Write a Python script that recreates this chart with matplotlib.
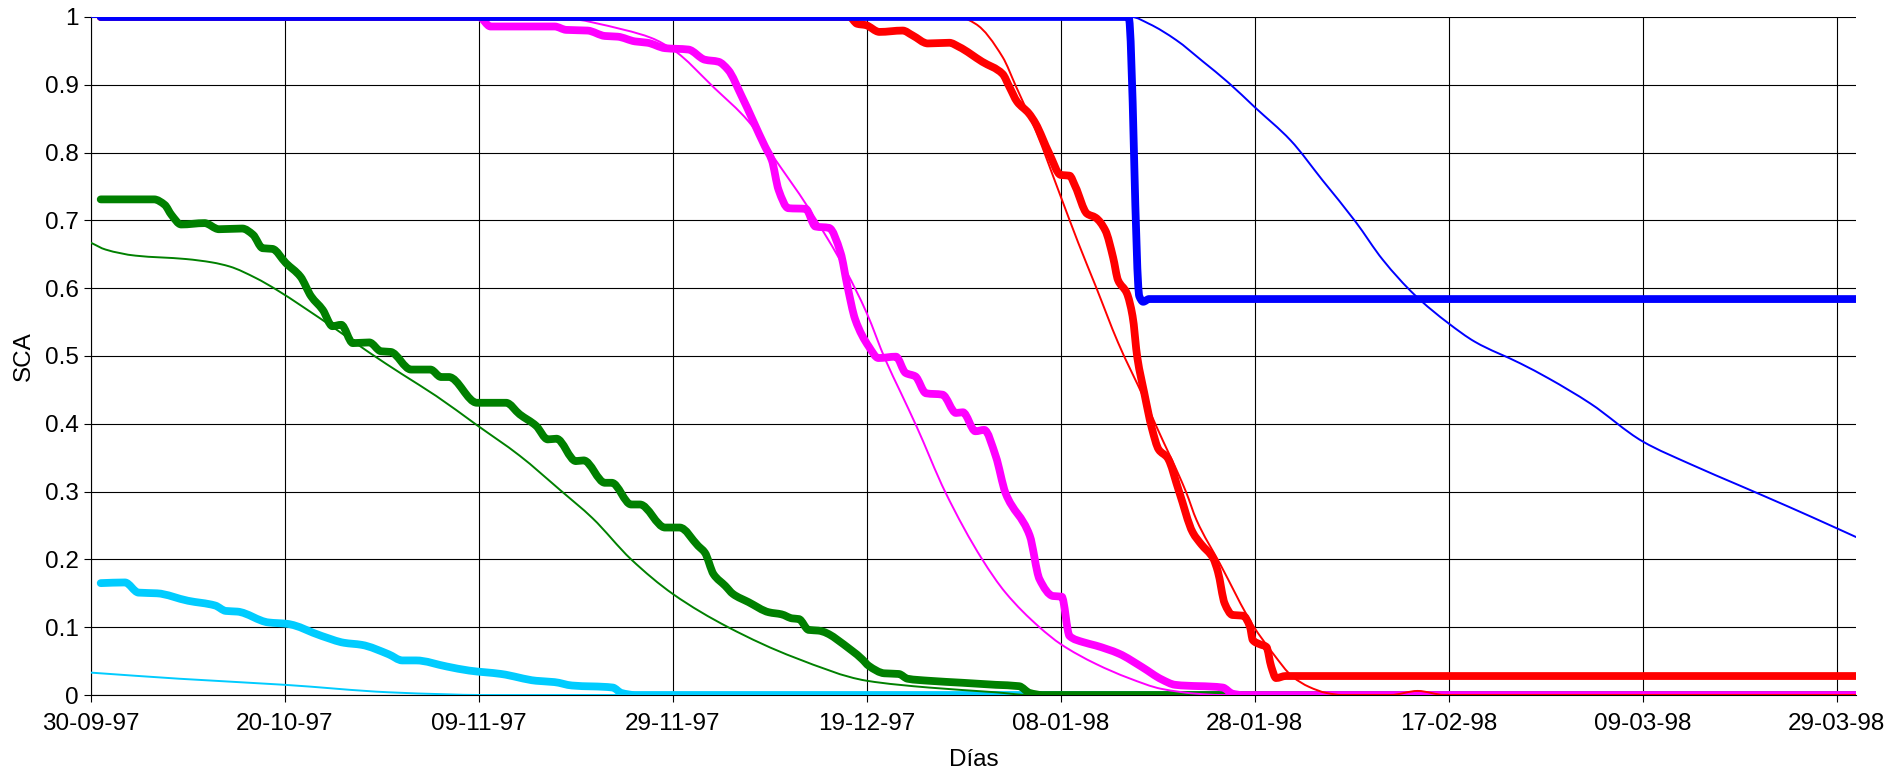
import datetime as dt
import numpy as np
import matplotlib
matplotlib.use("Agg")
import matplotlib.pyplot as plt
import matplotlib.dates as mdates
from matplotlib.path import Path
from matplotlib.patches import PathPatch

plt.rcParams['font.family'] = ['Liberation Sans Narrow', 'Liberation Sans', 'DejaVu Sans']

start = dt.datetime(1997, 9, 30)

# observed (thick) and simulated (thin) snow covered area, days since 30-09-97
cyan_obs_d = [1, 3.5, 4.9, 6.8, 10.0, 12.8, 13.9, 15.1, 18.3, 20.2, 23.8, 26.1, 27.9, 30.7,
              32.1, 33.5, 36.7, 39.0, 42.3, 45.9, 47.8, 49.6, 53.8, 54.7, 56.1, 182]
cyan_obs_v = [0.165, 0.166, 0.151, 0.150, 0.139, 0.132, 0.124, 0.123, 0.107, 0.105, 0.087, 0.077,
              0.074, 0.060, 0.051, 0.051, 0.042, 0.036, 0.031, 0.021, 0.019, 0.014, 0.011, 0.003, 0.0, 0.0]
cyan_sim_d = [0, 9.1, 20, 30.7, 36.7, 40, 182]
cyan_sim_v = [0.033, 0.024, 0.015, 0.004, 0.001, 0.0, 0.0]

green_obs_d = [1, 6.5, 7.6, 8.3, 9.3, 11.7, 13.2, 15.6, 16.7, 17.7, 18.7, 20.1, 21.6, 22.7, 23.9,
               24.9, 25.8, 27.0, 28.7, 29.9, 30.9, 33.0, 35.0, 36.1, 36.9, 39.8, 42.8, 44.2, 45.9,
               47.1, 48.0, 50.0, 50.8, 53.0, 53.7, 55.7, 56.6, 59.2, 60.7, 62.6, 63.3, 64.2, 65.4,
               66.2, 67.8, 69.9, 71.2, 72.3, 73.0, 74.0, 75.0, 78.5, 79.5, 80.2, 81.8, 83.3, 84.2,
               86.4, 89.9, 93.3, 95.7, 96.8, 98.1, 182]
green_obs_v = [0.731, 0.731, 0.723, 0.708, 0.694, 0.696, 0.687, 0.688, 0.679, 0.659, 0.658, 0.637,
               0.617, 0.588, 0.568, 0.544, 0.546, 0.519, 0.520, 0.507, 0.506, 0.480, 0.480, 0.469,
               0.469, 0.431, 0.431, 0.414, 0.397, 0.377, 0.378, 0.345, 0.346, 0.313, 0.313, 0.281,
               0.281, 0.247, 0.247, 0.220, 0.210, 0.178, 0.161, 0.149, 0.137, 0.122, 0.119, 0.113,
               0.112, 0.096, 0.095, 0.065, 0.053, 0.043, 0.032, 0.031, 0.024, 0.021, 0.018, 0.015,
               0.013, 0.003, 0.0, 0.0]
green_sim_d = [0, 1.5, 4.6, 9.8, 12.5, 14.3, 17.0, 19.1, 21.8, 25.3, 28.7, 32.1, 35.6, 39.7, 44.2,
               48.4, 51.7, 55.7, 60.0, 65.7, 72.6, 80.0, 86.4, 93.3, 96.8, 182]
green_sim_v = [0.667, 0.657, 0.648, 0.643, 0.638, 0.632, 0.615, 0.598, 0.573, 0.539, 0.505, 0.473,
               0.441, 0.399, 0.353, 0.302, 0.261, 0.200, 0.149, 0.100, 0.055, 0.021, 0.011, 0.004,
               0.0, 0.0]

magenta_obs_d = [1, 40, 41.2, 47.8, 49.0, 51.2, 53.0, 54.3, 56.1, 57.4, 59.2, 61.6, 63.3, 64.7,
                 65.7, 67.1, 69.5, 70.2, 70.9, 71.9, 73.7, 74.7, 76.1, 77.3, 78.0, 78.8, 80.2,
                 81.2, 83.0, 84.0, 85.0, 86.1, 87.8, 89.2, 89.9, 91.2, 92.1, 93.3, 94.3, 96.8,
                 97.8, 99.2, 100.1, 100.9, 102.3, 103.6, 106.0, 108.4, 110.4, 111.8, 116.7, 117.7,
                 118.7, 182]
magenta_obs_v = [1.0, 1.0, 0.986, 0.986, 0.981, 0.980, 0.972, 0.971, 0.964, 0.962, 0.954, 0.952,
                 0.937, 0.934, 0.922, 0.883, 0.809, 0.789, 0.745, 0.718, 0.717, 0.691, 0.689,
                 0.652, 0.603, 0.554, 0.514, 0.497, 0.499, 0.475, 0.470, 0.445, 0.443, 0.416,
                 0.417, 0.389, 0.391, 0.352, 0.298, 0.235, 0.171, 0.146, 0.145, 0.087, 0.078,
                 0.073, 0.061, 0.041, 0.023, 0.015, 0.011, 0.002, 0.0, 0.0]
magenta_sim_d = [0, 48.5, 55.0, 57.8, 60.0, 64.3, 67.8, 70.2, 74.0, 77.8, 80.0, 81.9, 83.5, 85.1,
                 88.1, 91.9, 94.3, 97.8, 100.0, 103.6, 107.0, 110.4, 113.9, 116.5, 182]
magenta_sim_v = [1.0, 0.998, 0.981, 0.969, 0.952, 0.895, 0.846, 0.797, 0.718, 0.627, 0.563, 0.495,
                 0.446, 0.397, 0.299, 0.200, 0.151, 0.100, 0.075, 0.046, 0.025, 0.009, 0.002, 0.0,
                 0.0]

red_obs_d = [1, 78.2, 79.0, 79.9, 81.3, 83.7, 84.7, 86.3, 88.5, 89.5, 91.9, 94.0, 94.7, 95.5, 96.7,
             97.4, 98.8, 100.0, 100.9, 101.5, 102.7, 103.6, 104.6, 105.4, 105.9, 106.8, 107.4,
             107.9, 108.6, 109.4, 110.1, 111.0, 112.2, 113.6, 114.5, 115.7, 116.2, 116.9, 117.7,
             118.8, 119.5, 119.8, 120.5, 121.2, 121.7, 122.2, 123.2, 182]
red_obs_v = [1.0, 1.0, 0.990, 0.988, 0.978, 0.980, 0.973, 0.961, 0.962, 0.956, 0.934, 0.916, 0.897,
             0.875, 0.858, 0.843, 0.799, 0.767, 0.766, 0.750, 0.710, 0.704, 0.685, 0.645, 0.612,
             0.593, 0.559, 0.497, 0.446, 0.393, 0.362, 0.350, 0.300, 0.240, 0.222, 0.202, 0.182,
             0.135, 0.118, 0.117, 0.101, 0.081, 0.075, 0.071, 0.042, 0.025, 0.028, 0.028]
red_sim_d = [0, 89.5, 91.2, 94.0, 95.4, 97.4, 100.0, 101.8, 103.6, 105.9, 108.6, 109.8, 112.9,
             114.0, 116.4, 119.8, 121.9, 123.9, 125.6, 127.4, 129.0, 134.0, 136.8, 139.6, 182]
red_sim_v = [1.0, 1.0, 0.990, 0.941, 0.897, 0.833, 0.735, 0.667, 0.603, 0.520, 0.437, 0.398, 0.300,
             0.258, 0.194, 0.103, 0.061, 0.027, 0.012, 0.003, 0.0, 0.0, 0.006, 0.0, 0.0]

blue_obs_d = [1, 107.0, 108.1, 108.5, 109.1, 182]
blue_obs_v = [1.0, 1.0, 0.588, 0.580, 0.584, 0.584]
blue_sim_d = [0, 107.3, 109.1, 111.9, 114.6, 117.3, 120.0, 123.7, 127.0, 130.4, 133.2, 136.5,
              140.0, 142.7, 147.4, 150.3, 154.6, 160.0, 165.0, 170.0, 175.0, 180.0, 182]
blue_sim_v = [1.0, 1.0, 0.990, 0.966, 0.935, 0.903, 0.867, 0.818, 0.759, 0.698, 0.642, 0.590,
              0.548, 0.521, 0.489, 0.467, 0.430, 0.374, 0.340, 0.309, 0.278, 0.246, 0.233]

THICK, THIN = 5.6, 1.4
series = [
    (cyan_obs_d, cyan_obs_v, '#00CCFF', THICK),
    (cyan_sim_d, cyan_sim_v, '#00CCFF', THIN),
    (green_obs_d, green_obs_v, '#008000', THICK),
    (green_sim_d, green_sim_v, '#008000', THIN),
    (magenta_obs_d, magenta_obs_v, '#FF00FF', THICK),
    (magenta_sim_d, magenta_sim_v, '#FF00FF', THIN),
    (red_obs_d, red_obs_v, '#FF0000', THICK),
    (red_sim_d, red_sim_v, '#FF0000', THIN),
    (blue_obs_d, blue_obs_v, '#0000FF', THICK),
    (blue_sim_d, blue_sim_v, '#0000FF', THIN),
]


def smooth_path(days, vals):
    # smoothed line through the points: cubic Bezier segments with monotone tangents
    x = mdates.date2num([start + dt.timedelta(days=d) for d in days])
    y = np.asarray(vals, dtype=float)
    h = np.diff(x)
    d = np.diff(y) / h
    m = np.zeros(len(x))
    m[0], m[-1] = d[0], d[-1]
    for i in range(1, len(x) - 1):
        if d[i - 1] * d[i] > 0:
            m[i] = 3 * (h[i - 1] + h[i]) / ((2 * h[i] + h[i - 1]) / d[i - 1]
                                            + (h[i] + 2 * h[i - 1]) / d[i])
    verts = [(x[0], y[0])]
    codes = [Path.MOVETO]
    for i in range(len(x) - 1):
        verts += [(x[i] + h[i] / 3, y[i] + m[i] * h[i] / 3),
                  (x[i + 1] - h[i] / 3, y[i + 1] - m[i + 1] * h[i] / 3),
                  (x[i + 1], y[i + 1])]
        codes += [Path.CURVE4] * 3
    return Path(verts, codes)


fig = plt.figure(figsize=(19.01, 7.77), dpi=100)
ax = fig.add_axes([91 / 1901, 1 - 695 / 777, 1765 / 1901, 678 / 777])

for d, v, c, lw in series:
    ax.add_patch(PathPatch(smooth_path(d, v), fill=False, edgecolor=c, lw=lw,
                           capstyle='round', joinstyle='round', zorder=3))

ax.set_xlim(start, start + dt.timedelta(days=182))
ax.set_ylim(0, 1)
ax.set_xticks([start + dt.timedelta(days=k) for k in range(0, 181, 20)])
ax.xaxis.set_major_formatter(mdates.DateFormatter('%d-%m-%y'))
ax.set_yticks([i / 10 for i in range(11)])
ax.set_yticklabels(['0'] + ['%.1f' % (i / 10) for i in range(1, 10)] + ['1'])

ax.grid(True, color='black', lw=0.8, zorder=1)
for s in ['top', 'right']:
    ax.spines[s].set_visible(False)
for s in ['left', 'bottom']:
    ax.spines[s].set_linewidth(0.8)
ax.tick_params(labelsize=17.5, length=5, width=0.8, direction='out')
ax.tick_params(axis='x', pad=8)
ax.tick_params(axis='y', pad=4)

ax.set_ylabel('SCA', fontsize=17.5)
ax.yaxis.set_label_coords(-0.032, 0.5)
ax.set_xlabel('Días', fontsize=17.5)
ax.xaxis.set_label_coords(0.5, -0.08)

fig.savefig('out.png', dpi=100)
